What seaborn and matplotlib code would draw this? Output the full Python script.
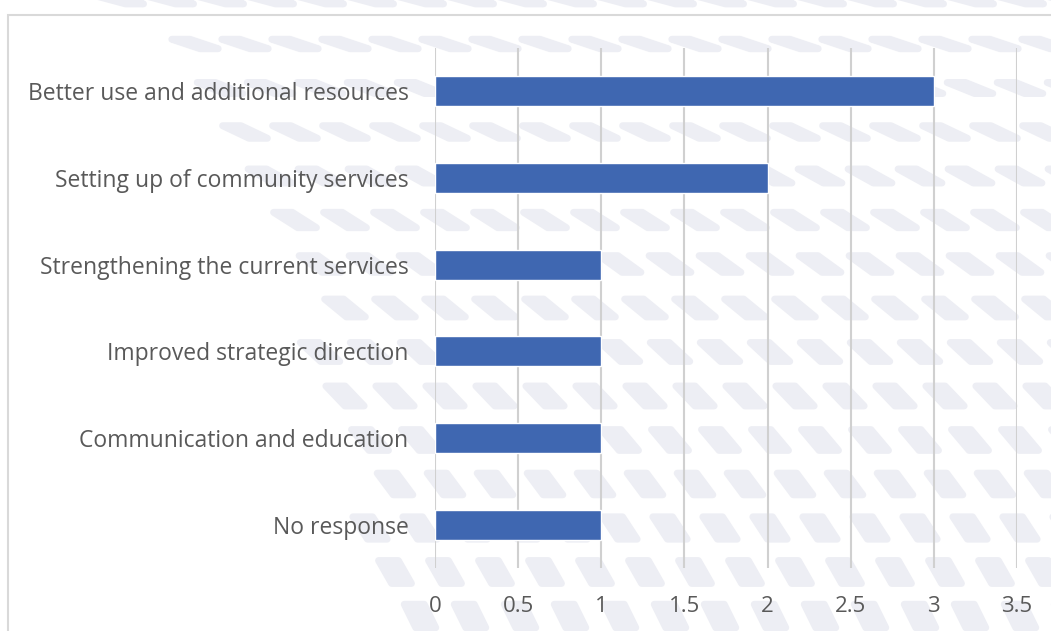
import matplotlib
matplotlib.use("Agg")
import matplotlib.pyplot as plt
import seaborn as sns
import pandas as pd
import numpy as np
from matplotlib.patches import Rectangle, Polygon

categories = [
    "Better use and additional resources",
    "Setting up of community services",
    "Strengthening the current services",
    "Improved strategic direction",
    "Communication and education",
    "No response",
]
values = [3, 2, 1, 1, 1, 1]
xticks = [0, 0.5, 1, 1.5, 2, 2.5, 3, 3.5]
xticklabels = ["0", "0.5", "1", "1.5", "2", "2.5", "3", "3.5"]

sns.set_theme(style="white")
plt.rcParams['font.family'] = ['Open Sans', 'DejaVu Sans']

df = pd.DataFrame({"category": categories, "value": values})

W, H = 1051, 631
fig = plt.figure(figsize=(W / 100, H / 100), dpi=100)
fig.patch.set_facecolor("white")

# decorative background pattern (faint tilted lozenges)
def fxy(px, py):
    return (px / W, 1 - py / H)

for r, py in enumerate(np.arange(0, H + 40, 44)):
    t = min(max(py / H, 0), 1)
    ang = np.deg2rad(-15 - 50 * t)
    L, Wd = 30 - 4 * t, 18 + 2 * t
    start = 120 + 270 * t ** 0.6
    for px in np.arange(-30 + (r % 2) * 25, W + 60, 50):
        if px < start:
            continue
        ca, sa = np.cos(ang), np.sin(ang)
        ux, uy = ca * L / 2, -sa * L / 2
        vx, vy = Wd / 2, 0
        pts = [(px - ux - vx, py - uy), (px - ux + vx, py - uy),
               (px + ux + vx, py + uy), (px + ux - vx, py + uy)]
        fig.patches.append(Polygon([fxy(a, b) for a, b in pts], closed=True,
                                   transform=fig.transFigure, facecolor="#EDEEF4",
                                   edgecolor="#EDEEF4", linewidth=5, joinstyle="round",
                                   zorder=-2))

# outer chart border
fig.patches.append(Rectangle((8 / W, -0.1), 1.2, 1 - 15 / H + 0.1, transform=fig.transFigure,
                             fill=False, edgecolor="#D9D9D9", linewidth=1.5, zorder=-1))

ax = fig.add_axes([435 / W, 1 - 568 / H, 582 / W, 520 / H])
ax.set_facecolor("none")
sns.barplot(data=df, x="value", y="category", orient="h", color="#3F67B1",
            width=0.345, saturation=1, ax=ax, zorder=3)
ax.set_xlim(0, 3.5)
ax.set_ylim(5.5, -0.5)
ax.set_xticks(xticks)
ax.set_xticklabels(xticklabels)
ax.xaxis.grid(True, color="#D0D0D0", linewidth=1.5, zorder=0)
ax.set_axisbelow(True)
for s in ax.spines.values():
    s.set_visible(False)
ax.tick_params(axis="x", length=0, pad=20, labelsize=16, labelcolor="#595959")
ax.tick_params(axis="y", length=0, pad=19, labelsize=16.5, labelcolor="#595959")
ax.set_xlabel("")
ax.set_ylabel("")

fig.savefig("out.png", dpi=100)
